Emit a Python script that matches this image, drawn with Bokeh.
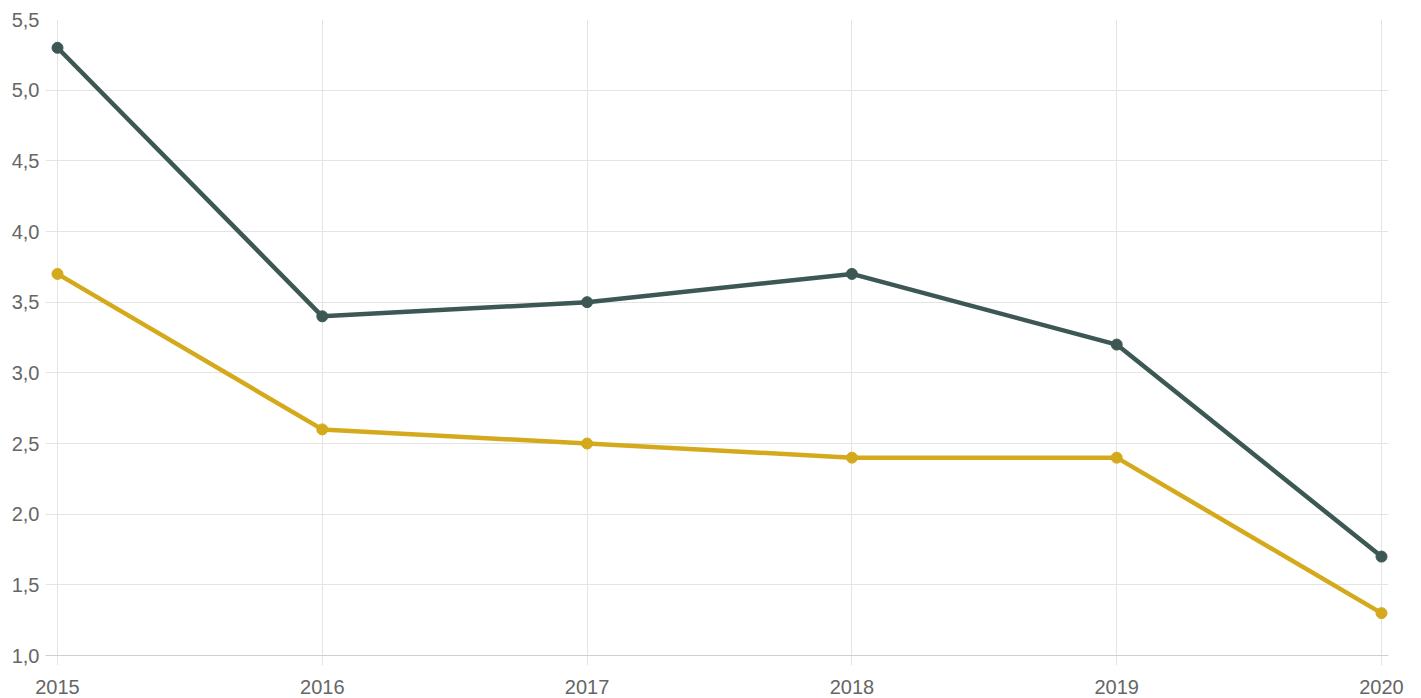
from bokeh.plotting import figure
from bokeh.models import FixedTicker, CustomJSTickFormatter, Range1d, Span
from bokeh.embed import file_html
from bokeh.resources import INLINE

years = [2015, 2016, 2017, 2018, 2019, 2020]
series_dark = [5.3, 3.4, 3.5, 3.7, 3.2, 1.7]
series_yellow = [3.7, 2.6, 2.5, 2.4, 2.4, 1.3]
y_ticks = [1.0, 1.5, 2.0, 2.5, 3.0, 3.5, 4.0, 4.5, 5.0, 5.5]

DARK = "#3d5854"
YELLOW = "#d4aa1c"
GRID = "#e4e4e4"

# pixel layout (frame padded a little so that end markers are not clipped
# and grid lines show the short tick-like overhang of the original)
X0_PX, X1_PX = 57, 1381      # positions of first / last year
Y0_PX, Y1_PX = 657, 19       # positions of lowest / highest tick
PAD_L, PAD_R, PAD_B = 12, 7, 10
x_per_px = (years[-1] - years[0]) / (X1_PX - X0_PX)
y_per_px = (y_ticks[-1] - y_ticks[0]) / (Y0_PX - Y1_PX)

frame_left = X0_PX - PAD_L
frame_right = X1_PX + PAD_R
W = 1415
H = 696

p = figure(width=W, height=H, output_backend="svg", toolbar_location=None,
           x_range=Range1d(years[0] - PAD_L * x_per_px, years[-1] + PAD_R * x_per_px),
           y_range=Range1d(y_ticks[0] - PAD_B * y_per_px, y_ticks[-1]),
           min_border_left=frame_left, min_border_right=W - frame_right,
           min_border_top=Y1_PX, min_border_bottom=H - (Y0_PX + PAD_B))
p.outline_line_color = None

p.line(years, series_dark, line_color=DARK, line_width=4.5)
p.scatter(years, series_dark, size=11, fill_color=DARK, line_color=DARK)
p.line(years, series_yellow, line_color=YELLOW, line_width=4.5)
p.scatter(years, series_yellow, size=11, fill_color=YELLOW, line_color=YELLOW)

p.xaxis.ticker = FixedTicker(ticks=years)
p.yaxis.ticker = FixedTicker(ticks=y_ticks)
p.yaxis.formatter = CustomJSTickFormatter(code="return tick.toFixed(1).replace('.', ',');")
p.xaxis.formatter = CustomJSTickFormatter(code="return tick.toFixed(0);")

for ax in (p.xaxis, p.yaxis):
    ax.axis_line_color = None
    ax.major_tick_line_color = None
    ax.minor_tick_line_color = None
    ax.major_label_text_font = "Liberation Sans"
    ax.major_label_text_font_size = "20px"
    ax.major_label_text_color = "#666666"
p.xaxis.major_label_standoff = 8
p.yaxis.major_label_standoff = 0

p.xgrid.grid_line_color = GRID
p.ygrid.grid_line_color = GRID
p.add_layout(Span(location=y_ticks[0], dimension="width", line_color="#cfcfcf", line_width=1, level="underlay"))

open("out.html", "w").write(file_html(p, INLINE))
